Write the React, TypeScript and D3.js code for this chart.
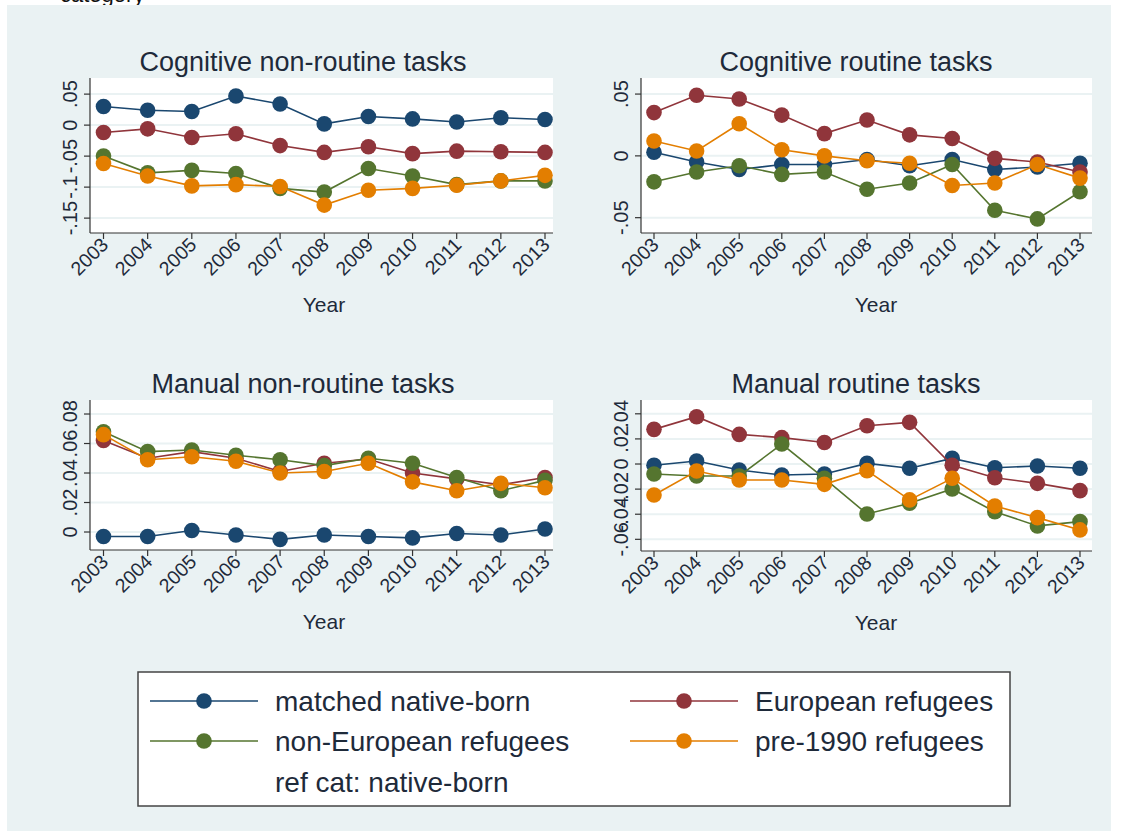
import * as d3 from 'd3';
import React from 'react';

// years on the x axis
const years = [2003, 2004, 2005, 2006, 2007, 2008, 2009, 2010, 2011, 2012, 2013];

const seriesNames = ['matched native-born', 'European refugees', 'non-European refugees', 'pre-1990 refugees'];
const colors = ['#1a476f', '#90353b', '#55752f', '#e37e00'];

// Cognitive non-routine tasks
const cnrNative = [0.030, 0.024, 0.022, 0.047, 0.034, 0.002, 0.014, 0.010, 0.005, 0.012, 0.009];
const cnrEuro = [-0.012, -0.006, -0.020, -0.014, -0.033, -0.044, -0.035, -0.046, -0.042, -0.043, -0.044];
const cnrNonEuro = [-0.050, -0.077, -0.073, -0.078, -0.102, -0.108, -0.070, -0.082, -0.096, -0.090, -0.090];
const cnrPre90 = [-0.062, -0.082, -0.098, -0.096, -0.099, -0.129, -0.105, -0.102, -0.097, -0.090, -0.081];

// Cognitive routine tasks
const crNative = [0.003, -0.005, -0.011, -0.007, -0.007, -0.003, -0.008, -0.003, -0.011, -0.009, -0.006];
const crEuro = [0.035, 0.049, 0.046, 0.033, 0.018, 0.029, 0.017, 0.014, -0.002, -0.005, -0.013];
const crNonEuro = [-0.021, -0.013, -0.008, -0.015, -0.013, -0.027, -0.022, -0.007, -0.044, -0.051, -0.029];
const crPre90 = [0.012, 0.004, 0.026, 0.005, 0.0, -0.004, -0.006, -0.024, -0.022, -0.007, -0.018];

// Manual non-routine tasks
const mnrNative = [-0.003, -0.003, 0.001, -0.002, -0.005, -0.002, -0.003, -0.004, -0.001, -0.002, 0.002];
const mnrEuro = [0.062, 0.050, 0.0545, 0.050, 0.041, 0.0466, 0.0495, 0.040, 0.036, 0.032, 0.037];
const mnrNonEuro = [0.068, 0.0545, 0.0556, 0.052, 0.049, 0.045, 0.050, 0.0466, 0.037, 0.028, 0.035];
const mnrPre90 = [0.066, 0.049, 0.051, 0.048, 0.040, 0.041, 0.0466, 0.034, 0.028, 0.033, 0.030];

// Manual routine tasks
const mrNative = [-0.001, 0.0024, -0.0048, -0.0088, -0.008, 0.0005, -0.0034, 0.0045, -0.003, -0.0016, -0.0034];
const mrEuro = [0.0276, 0.0377, 0.0236, 0.021, 0.0172, 0.0305, 0.0332, -0.001, -0.0109, -0.0154, -0.0212];
const mrNonEuro = [-0.008, -0.0095, -0.0095, 0.0159, -0.0114, -0.0398, -0.0313, -0.0199, -0.038, -0.0493, -0.0459];
const mrPre90 = [-0.0247, -0.0056, -0.0127, -0.0127, -0.0162, -0.0053, -0.0286, -0.0114, -0.0334, -0.0427, -0.0525];

const cnrTicks = [-0.15, -0.1, -0.05, 0, 0.05];
const cnrLabels = ['-.15', '-.1', '-.05', '0', '.05'];
const crTicks = [-0.05, 0, 0.05];
const crLabels = ['-.05', '0', '.05'];
const mnrTicks = [0, 0.02, 0.04, 0.06, 0.08];
const mnrLabels = ['0', '.02', '.04', '.06', '.08'];
const mrTicks = [-0.06, -0.04, -0.02, 0, 0.02, 0.04];
const mrLabels = ['-.06', '-.04', '-.02', '0', '.02', '.04'];

const FONT = 'Liberation Sans, Arial, sans-serif';
const BG = '#eaf2f3';
const INK = '#1e2a3a';

interface PanelProps {
  title: string;
  series: number[][];
  ticks: number[];
  tickLabels: string[];
  domain: [number, number];
  left: number;
  right: number;
  top: number;
  bottom: number;
  firstX: number;
  lastX: number;
  titleX: number;
  yearX: number;
}

const Panel: React.FC<PanelProps> = ({
  title, series, ticks, tickLabels, domain, left, right, top, bottom, firstX, lastX, titleX, yearX,
}) => {
  const x = d3.scaleLinear().domain([years[0], years[years.length - 1]]).range([firstX, lastX]);
  const y = d3.scaleLinear().domain(domain).range([bottom, top]);
  const line = d3
    .line<number>()
    .x((d, i) => x(years[i]))
    .y((d) => y(d));

  return (
    <g>
      <text x={titleX} y={top - 7} textAnchor="middle" fontSize={27} fill={INK} fontFamily={FONT}>
        {title}
      </text>
      <rect x={left} y={top} width={right - left} height={bottom - top} fill="white" />
      {ticks.map((t) => (
        <line key={'g' + t} x1={left} x2={right} y1={y(t)} y2={y(t)} stroke={BG} strokeWidth={2} />
      ))}
      <line x1={left} x2={left} y1={top} y2={bottom} stroke="#333" strokeWidth={1.2} />
      <line x1={left} x2={right} y1={bottom} y2={bottom} stroke="#333" strokeWidth={1.2} />
      {ticks.map((t, i) => (
        <g key={'t' + t}>
          <line x1={left - 6} x2={left} y1={y(t)} y2={y(t)} stroke="#333" strokeWidth={1.2} />
          <text
            transform={`translate(${left - 13},${y(t)}) rotate(-90)`}
            textAnchor="middle"
            fontSize={20}
            fill={INK}
            fontFamily={FONT}
          >
            {tickLabels[i]}
          </text>
        </g>
      ))}
      {years.map((yr) => (
        <g key={'x' + yr}>
          <line x1={x(yr)} x2={x(yr)} y1={bottom} y2={bottom + 6} stroke="#333" strokeWidth={1.2} />
          <text
            transform={`translate(${x(yr) + 6},${bottom + 13}) rotate(-45)`}
            textAnchor="end"
            fontSize={19.5}
            fill={INK}
            fontFamily={FONT}
          >
            {yr}
          </text>
        </g>
      ))}
      <text x={yearX} y={bottom + 79} textAnchor="middle" fontSize={21} fill={INK} fontFamily={FONT}>
        Year
      </text>
      {series.map((s, si) => (
        <g key={'s' + si}>
          <path d={line(s) ?? ''} fill="none" stroke={colors[si]} strokeWidth={1.6} />
          {s.map((v, i) => (
            <circle key={i} cx={x(years[i])} cy={y(v)} r={7.8} fill={colors[si]} />
          ))}
        </g>
      ))}
    </g>
  );
};

const App: React.FC = () => {
  const legendRows = [
    { i: 0, lx: 150, ty: 701 },
    { i: 1, lx: 630, ty: 701 },
    { i: 2, lx: 150, ty: 741 },
    { i: 3, lx: 630, ty: 741 },
  ];
  return (
    <svg width={1143} height={831} style={{ position: 'absolute', left: 0, top: 0 }}>
      <rect x={0} y={0} width={1143} height={831} fill="white" />
      <text x={60} y={2} fontSize={22} fill="#111" fontFamily={FONT}>
        category
      </text>
      <rect x={7} y={5} width={1104} height={826} fill={BG} />
      <Panel
        title="Cognitive non-routine tasks"
        series={[cnrNative, cnrEuro, cnrNonEuro, cnrPre90]}
        ticks={cnrTicks}
        tickLabels={cnrLabels}
        domain={[-0.174, 0.076]}
        left={90}
        right={553}
        top={78}
        bottom={233}
        firstX={103.5}
        lastX={545}
        titleX={303}
        yearX={324}
      />
      <Panel
        title="Cognitive routine tasks"
        series={[crNative, crEuro, crNonEuro, crPre90]}
        ticks={crTicks}
        tickLabels={crLabels}
        domain={[-0.0624, 0.063]}
        left={641}
        right={1092}
        top={78}
        bottom={233}
        firstX={654}
        lastX={1080}
        titleX={856}
        yearX={876}
      />
      <Panel
        title="Manual non-routine tasks"
        series={[mnrNative, mnrEuro, mnrNonEuro, mnrPre90]}
        ticks={mnrTicks}
        tickLabels={mnrLabels}
        domain={[-0.0122, 0.0895]}
        left={90}
        right={553}
        top={400}
        bottom={550}
        firstX={103.5}
        lastX={545}
        titleX={303}
        yearX={324}
      />
      <Panel
        title="Manual routine tasks"
        series={[mrNative, mrEuro, mrNonEuro, mrPre90]}
        ticks={mrTicks}
        tickLabels={mrLabels}
        domain={[-0.0693, 0.051]}
        left={641}
        right={1092}
        top={400}
        bottom={551}
        firstX={654}
        lastX={1080}
        titleX={856}
        yearX={876}
      />
      <rect x={138} y={672} width={872} height={134} fill="white" stroke="#444" strokeWidth={1.5} />
      {legendRows.map((r) => (
        <g key={r.i}>
          <line x1={r.lx} x2={r.lx + 108} y1={r.ty} y2={r.ty} stroke={colors[r.i]} strokeWidth={1.6} />
          <circle cx={r.lx + 54} cy={r.ty} r={7.8} fill={colors[r.i]} />
          <text x={r.lx + 125} y={r.ty + 10} fontSize={28} fill={INK} fontFamily={FONT}>
            {seriesNames[r.i]}
          </text>
        </g>
      ))}
      <text x={275} y={792} fontSize={28} fill={INK} fontFamily={FONT}>
        ref cat: native-born
      </text>
    </svg>
  );
};

export default App;
